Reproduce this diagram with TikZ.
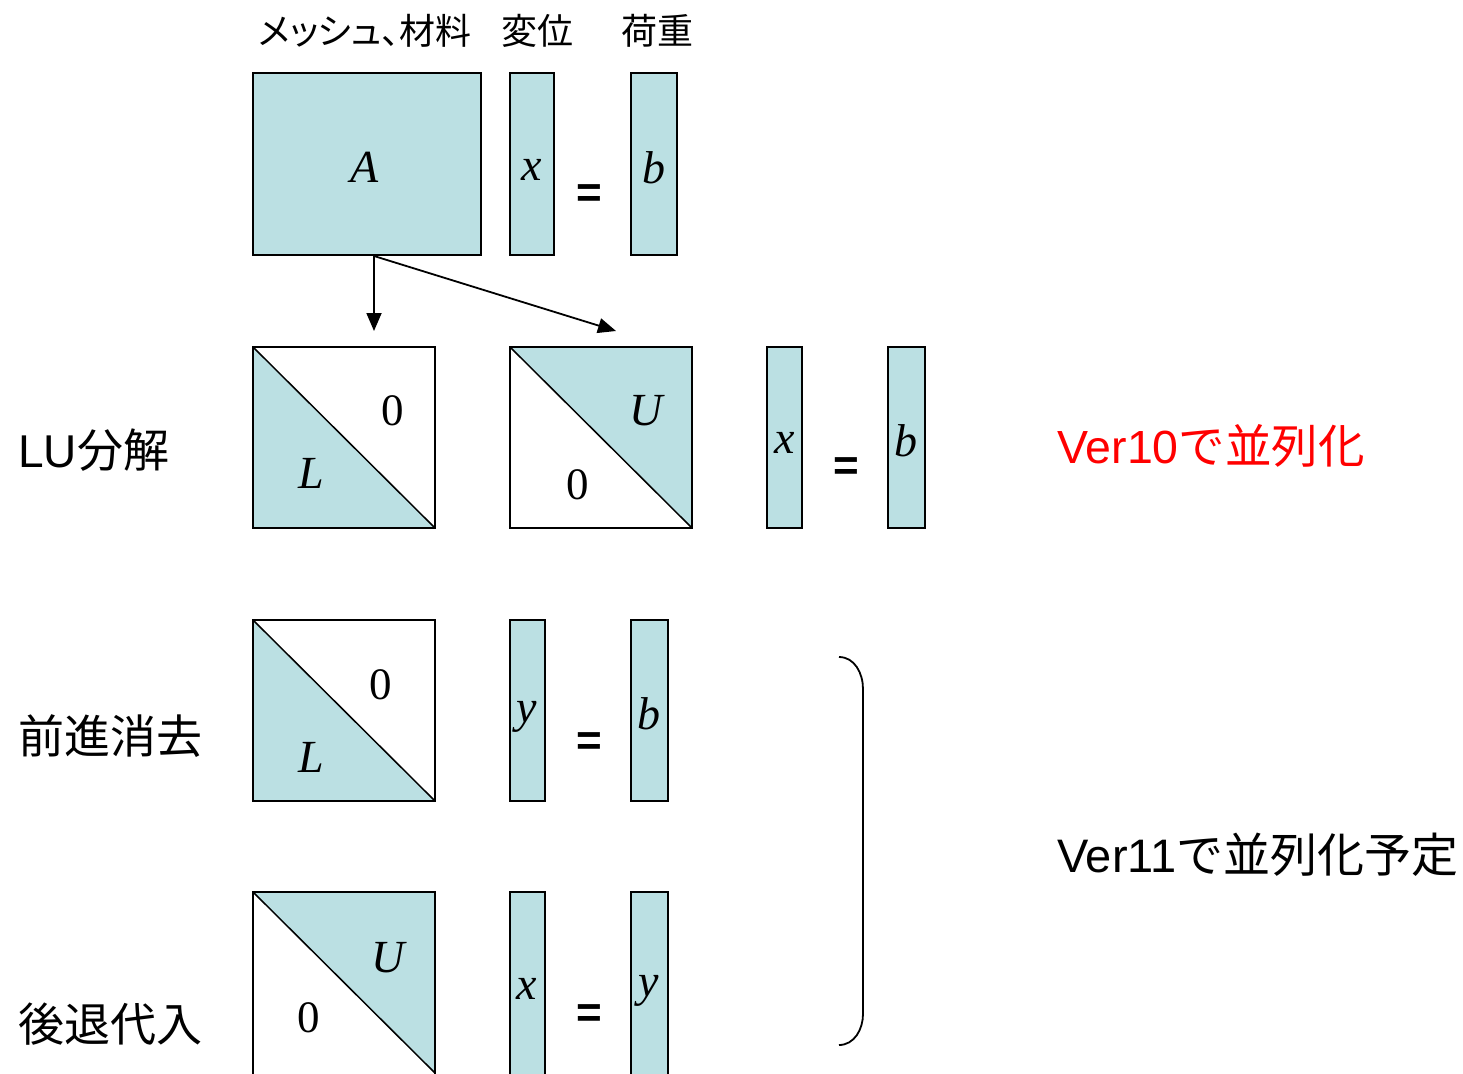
\documentclass[tikz,border=0pt]{standalone}
\usepackage{fontspec}
\setmainfont{Liberation Serif}
\newfontfamily\jp[RawFeature=+palt]{Noto Sans CJK JP}
\newfontfamily\jpm{Noto Sans CJK JP}
\newfontfamily\arl{Liberation Sans}
\usetikzlibrary{arrows.meta}
\definecolor{tealfill}{RGB}{187,224,227}
\definecolor{redtxt}{RGB}{255,0,0}
\tikzset{
  boxline/.style={line width=1.8pt},
  vecbox/.style={draw, boxline, fill=tealfill, inner sep=0pt, outer sep=0pt},
  sqbox/.style={inner sep=0pt, outer sep=0pt, minimum width=182pt, minimum height=181pt},
  mlbl/.style={inner sep=0pt, font=\fontsize{46}{50}\selectfont\itshape},
  dlbl/.style={inner sep=0pt, font=\fontsize{45}{50}\selectfont},
  eqsign/.style={inner sep=0pt, font=\fontsize{44}{48}\selectfont\arl\bfseries},
  toplbl/.style={inner sep=0pt, font=\fontsize{36}{40}\selectfont\jp},
  sidelbl/.style={inner sep=0pt, anchor=west, font=\fontsize{46}{50}\selectfont},
  arr/.style={line width=1.8pt, -{Triangle[length=18pt,width=15pt]}},
  diag/.style={line width=1.5pt},
}
\begin{document}
\begin{tikzpicture}[x=1pt,y=-1pt]
\useasboundingbox (0,0) rectangle (1463,1073);

% ---------- top row ----------
\node[toplbl] (lblA) at (365,31) {メッシュ、材料};
\node[toplbl] (lblx) at (537,31) {変位};
\node[toplbl] (lblb) at (657,31) {荷重};

\node[vecbox, minimum width=228pt, minimum height=182pt] (A) at (367,164) {};
\node[mlbl] (At) at (365,167) {A};
\node[vecbox, minimum width=44pt, minimum height=182pt] (x0) at (532,164) {};
\node[mlbl] (x0t) at (532,170) {x};
\node[eqsign] (eq0) at (589,196) {=};
\node[vecbox, minimum width=46pt, minimum height=182pt] (b0) at (654,164) {};
\node[mlbl] (b0t) at (654,168) {b};

% ---------- row 2: LU ----------
\node[sidelbl] (lu) at (18,450) {{\arl LU}{\jpm 分解}};

\path node[sqbox] (L1) at (344,437.5) {};
\fill[tealfill] (L1.north west) -- (L1.south west) -- (L1.south east) -- cycle;
\draw[boxline] (L1.north west) rectangle (L1.south east);
\draw[diag] (L1.north west) -- (L1.south east);
\node[dlbl] (L1z) at (393,411) {0};
\node[mlbl] (L1l) at (311,473) {L};

\path node[sqbox] (U1) at (601,437.5) {};
\fill[tealfill] (U1.north west) -- (U1.north east) -- (U1.south east) -- cycle;
\draw[boxline] (U1.north west) rectangle (U1.south east);
\draw[diag] (U1.north west) -- (U1.south east);
\node[mlbl] (U1u) at (646,411) {U};
\node[dlbl] (U1z) at (578,485) {0};

\node[vecbox, minimum width=35pt, minimum height=181pt] (x1) at (784.5,437.5) {};
\node[mlbl] (x1t) at (785,443) {x};
\node[eqsign] (eq1) at (846,469) {=};
\node[vecbox, minimum width=37pt, minimum height=181pt] (b1) at (906.5,437.5) {};
\node[mlbl] (b1t) at (906,441) {b};

\node[sidelbl, font=\fontsize{46.5}{50}\selectfont, text=redtxt] (v10) at (1057,446) {{\arl Ver10}{\jpm で並列化}};

% arrows
\coordinate (As) at (374,256);
\coordinate (Lin) at (374,331);
\coordinate (Uin) at (616,331);
\draw[arr] (As) -- (Lin);
\draw[arr] (As) -- (Uin);

% ---------- row 3: forward ----------
\node[sidelbl] (fw) at (18,736) {\jpm 前進消去};

\path node[sqbox] (L2) at (344,710.5) {};
\fill[tealfill] (L2.north west) -- (L2.south west) -- (L2.south east) -- cycle;
\draw[boxline] (L2.north west) rectangle (L2.south east);
\draw[diag] (L2.north west) -- (L2.south east);
\node[dlbl] (L2z) at (381,685) {0};
\node[mlbl] (L2l) at (311,757) {L};

\node[vecbox, minimum width=35pt, minimum height=181pt] (y2) at (527.5,710.5) {};
\node[mlbl] (y2t) at (527,717) {y};
\node[eqsign] (eq2) at (589,744) {=};
\node[vecbox, minimum width=37pt, minimum height=181pt] (b2) at (649.5,710.5) {};
\node[mlbl] (b2t) at (649,714) {b};

% ---------- row 4: backward ----------
\node[sidelbl] (bw) at (18,1024) {\jpm 後退代入};

\path node[sqbox, minimum height=183pt] (U2) at (344,983.5) {};
\fill[tealfill] (U2.north west) -- (U2.north east) -- ([yshift=2pt]U2.south east) -- cycle;
\draw[boxline] (U2.north west) rectangle (U2.south east);
\draw[diag] (U2.north west) -- ([yshift=2pt]U2.south east);
\node[mlbl] (U2u) at (388,958) {U};
\node[dlbl] (U2z) at (309,1018) {0};

\node[vecbox, minimum width=35pt, minimum height=183pt] (x3) at (527.5,983.5) {};
\node[mlbl] (x3t) at (527,989) {x};
\node[eqsign] (eq3) at (589,1016) {=};
\node[vecbox, minimum width=37pt, minimum height=183pt] (y3) at (649.5,983.5) {};
\node[mlbl] (y3t) at (649,991) {y};

% ---------- brace ----------
\coordinate (brT) at (839,657);
\coordinate (brB) at (839,1045);
\draw[line width=1.8pt] (brT) to[out=0,in=90] (863,689) -- (863,1014) to[out=-90,in=0] (brB);

\node[sidelbl, font=\fontsize{47}{50}\selectfont] (v11) at (1057,855) {{\arl Ver11}{\jpm で並列化予定}};
\end{tikzpicture}
\end{document}
